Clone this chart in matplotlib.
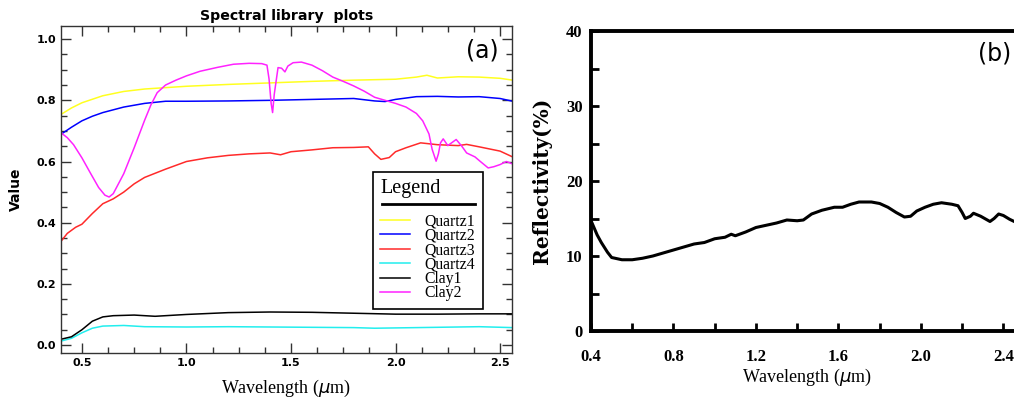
import matplotlib
matplotlib.use("Agg")
import matplotlib.pyplot as plt
from matplotlib.ticker import MultipleLocator
from matplotlib.lines import Line2D

# ---------------- data: panel (a) ----------------
q1_wl = [0.40, 0.45, 0.50, 0.60, 0.70, 0.80, 1.00, 1.20, 1.40, 1.60, 1.80, 2.00, 2.10, 2.15, 2.20, 2.30, 2.40, 2.50, 2.56]
q1_val = [0.754, 0.775, 0.792, 0.815, 0.829, 0.837, 0.846, 0.852, 0.857, 0.862, 0.866, 0.869, 0.876, 0.882, 0.873, 0.877, 0.876, 0.872, 0.866]

q2_wl = [0.40, 0.45, 0.50, 0.55, 0.60, 0.70, 0.80, 0.90, 1.00, 1.20, 1.40, 1.60, 1.80, 1.90, 1.95, 2.00, 2.10, 2.20, 2.30, 2.40, 2.50, 2.56]
q2_val = [0.689, 0.712, 0.733, 0.748, 0.760, 0.778, 0.790, 0.797, 0.797, 0.798, 0.800, 0.803, 0.806, 0.798, 0.796, 0.803, 0.812, 0.813, 0.811, 0.812, 0.806, 0.797]

q3_wl = [0.40, 0.43, 0.47, 0.50, 0.55, 0.60, 0.65, 0.70, 0.75, 0.80, 0.90, 1.00, 1.10, 1.20, 1.30, 1.40, 1.45, 1.50, 1.60, 1.70, 1.80, 1.87, 1.90, 1.93, 1.97, 2.00, 2.05, 2.12, 2.20, 2.30, 2.34, 2.40, 2.50, 2.56]
q3_val = [0.339, 0.365, 0.385, 0.395, 0.430, 0.462, 0.478, 0.500, 0.527, 0.548, 0.575, 0.600, 0.612, 0.620, 0.625, 0.628, 0.622, 0.632, 0.638, 0.645, 0.646, 0.648, 0.625, 0.607, 0.613, 0.632, 0.645, 0.661, 0.655, 0.652, 0.656, 0.648, 0.634, 0.615]

q4_wl = [0.40, 0.45, 0.50, 0.55, 0.60, 0.70, 0.80, 1.00, 1.20, 1.40, 1.60, 1.80, 1.90, 2.00, 2.20, 2.40, 2.56]
q4_val = [0.013, 0.022, 0.040, 0.055, 0.062, 0.064, 0.060, 0.059, 0.060, 0.059, 0.058, 0.057, 0.055, 0.056, 0.058, 0.060, 0.057]

c1_wl = [0.40, 0.45, 0.50, 0.55, 0.60, 0.65, 0.75, 0.85, 1.00, 1.20, 1.40, 1.60, 1.80, 2.00, 2.20, 2.40, 2.56]
c1_val = [0.019, 0.027, 0.050, 0.078, 0.092, 0.096, 0.098, 0.094, 0.100, 0.106, 0.108, 0.107, 0.104, 0.101, 0.101, 0.102, 0.102]

c2_wl = [0.40, 0.43, 0.46, 0.50, 0.54, 0.58, 0.61, 0.63, 0.65, 0.70, 0.75, 0.80, 0.83, 0.86, 0.90, 0.95, 1.00, 1.065, 1.15, 1.225, 1.30, 1.36, 1.385, 1.395, 1.405, 1.412, 1.42, 1.438, 1.455, 1.471, 1.485, 1.51, 1.55, 1.60, 1.65, 1.70, 1.75, 1.80, 1.85, 1.90, 1.95, 2.00, 2.05, 2.10, 2.13, 2.16, 2.175, 2.194, 2.205, 2.215, 2.228, 2.25, 2.29, 2.317, 2.34, 2.38, 2.404, 2.443, 2.47, 2.50, 2.53, 2.56]
c2_val = [0.694, 0.678, 0.655, 0.612, 0.563, 0.515, 0.490, 0.484, 0.495, 0.560, 0.645, 0.735, 0.785, 0.825, 0.850, 0.866, 0.880, 0.895, 0.908, 0.918, 0.921, 0.920, 0.915, 0.870, 0.790, 0.760, 0.820, 0.907, 0.905, 0.893, 0.912, 0.923, 0.925, 0.915, 0.897, 0.876, 0.862, 0.847, 0.830, 0.810, 0.800, 0.790, 0.778, 0.757, 0.733, 0.690, 0.640, 0.601, 0.625, 0.661, 0.674, 0.652, 0.672, 0.650, 0.628, 0.615, 0.601, 0.579, 0.583, 0.590, 0.600, 0.592]

series_names = ["Quartz1", "Quartz2", "Quartz3", "Quartz4", "Clay1", "Clay2"]
series_colors = ["#ffff20", "#0000ff", "#ff2a2a", "#22eeee", "#000000", "#ff22ff"]

# ---------------- data: panel (b) ----------------
b_wl = [0.405, 0.43, 0.45, 0.48, 0.50, 0.55, 0.60, 0.65, 0.70, 0.75, 0.80, 0.85, 0.90, 0.95, 1.00, 1.05, 1.08, 1.10, 1.15, 1.20, 1.25, 1.30, 1.35, 1.40, 1.43, 1.47, 1.52, 1.58, 1.62, 1.66, 1.70, 1.76, 1.80, 1.84, 1.88, 1.92, 1.95, 1.98, 2.02, 2.06, 2.10, 2.15, 2.18, 2.20, 2.215, 2.24, 2.255, 2.29, 2.335, 2.355, 2.377, 2.40, 2.43, 2.46, 2.50]
b_refl = [14.4, 12.8, 11.8, 10.5, 9.8, 9.5, 9.5, 9.7, 10.0, 10.4, 10.8, 11.2, 11.6, 11.8, 12.3, 12.5, 12.9, 12.7, 13.2, 13.8, 14.1, 14.4, 14.8, 14.7, 14.8, 15.6, 16.1, 16.5, 16.5, 16.9, 17.2, 17.2, 17.0, 16.5, 15.8, 15.2, 15.3, 16.0, 16.5, 16.9, 17.1, 16.9, 16.7, 15.8, 15.0, 15.3, 15.7, 15.3, 14.6, 15.0, 15.6, 15.4, 14.9, 14.5, 14.4]

W, H = 1014, 400
fig = plt.figure(figsize=(W / 100, H / 100), dpi=100)

def fx(px):
    return px / W

def fy(py):
    return 1 - py / H

# ---------------- panel (a) ----------------
axa = fig.add_axes([fx(61), fy(353), fx(512) - fx(61), fy(26) - fy(353)])
data_a = [(q1_wl, q1_val), (q2_wl, q2_val), (q3_wl, q3_val), (q4_wl, q4_val), (c1_wl, c1_val), (c2_wl, c2_val)]
handles = []
for (wl, val), name, col in zip(data_a, series_names, series_colors):
    ln, = axa.plot(wl, val, color=col, lw=1.1, label=name)
    handles.append(ln)
axa.set_xlim(0.4, 2.557)
axa.set_ylim(-0.026, 1.043)
axa.xaxis.set_major_locator(MultipleLocator(0.5))
axa.xaxis.set_minor_locator(MultipleLocator(0.125))
axa.yaxis.set_major_locator(MultipleLocator(0.2))
axa.yaxis.set_minor_locator(MultipleLocator(0.05))
axa.tick_params(which="both", direction="in", top=True, right=True, color="#333333", width=1.0)
axa.tick_params(which="major", length=7)
axa.tick_params(which="minor", length=4.5)
axa.tick_params(labelsize=8)
for lab in axa.get_xticklabels() + axa.get_yticklabels():
    lab.set_fontweight("bold")
    lab.set_family("DejaVu Sans")
for sp in axa.spines.values():
    sp.set_color("#333333")
    sp.set_linewidth(1.0)
axa.set_title("Spectral library  plots", fontsize=10.2, fontweight="bold", family="DejaVu Sans", pad=4)
axa.set_ylabel("Value", fontsize=10, fontweight="bold", family="DejaVu Sans", labelpad=10)
axa.set_xlabel("Wavelength ($\\mu$m)", fontsize=13, family="Liberation Serif", labelpad=7)
axa.text(0.97, 0.925, "(a)", transform=axa.transAxes, ha="right", va="center", fontsize=17, family="DejaVu Sans")

leg = axa.legend(handles=handles, title="Legend", loc="upper left",
                 bbox_to_anchor=((373 - 61) / 451, (353 - 172) / 327),
                 frameon=True, fancybox=False, edgecolor="black", framealpha=1,
                 prop={"family": "Liberation Serif", "size": 11.3},
                 title_fontproperties={"family": "Liberation Serif", "size": 14.5},
                 handlelength=1.9, handletextpad=0.95, labelspacing=-0.1,
                 borderpad=0.45, borderaxespad=0)
leg.get_frame().set_linewidth(1.2)
leg._legend_box.align = "left"
leg._legend_box.sep = 11
# underline of the legend title
axa.add_line(Line2D([(382 - 61) / 451, (475 - 61) / 451], [(353 - 204) / 327] * 2,
                    transform=axa.transAxes, color="black", lw=2.0, zorder=10))

# ---------------- panel (b) ----------------
axb = fig.add_axes([fx(591), fy(331), fx(1024) - fx(591), fy(31) - fy(331)])
axb.plot(b_wl, b_refl, color="black", lw=2.2)
axb.set_xlim(0.4, 2.5)
axb.set_ylim(0, 40)
axb.xaxis.set_major_locator(MultipleLocator(0.4))
axb.xaxis.set_minor_locator(MultipleLocator(0.2))
axb.yaxis.set_major_locator(MultipleLocator(10))
axb.yaxis.set_minor_locator(MultipleLocator(5))
axb.tick_params(which="both", direction="in", length=6, width=2.0, top=False, right=False)
axb.tick_params(axis="y", labelsize=12, pad=6)
axb.tick_params(axis="x", labelsize=12, pad=13)
for lab in axb.get_xticklabels() + axb.get_yticklabels():
    lab.set_fontweight("bold")
    lab.set_family("Liberation Serif")
for sp in axb.spines.values():
    sp.set_linewidth(2.8)
axb.spines["right"].set_visible(False)
axb.set_ylabel("Reflectivity(%)", fontsize=14.5, fontweight="bold", family="DejaVu Serif", labelpad=10)
axb.set_xlabel("Wavelength ($\\mu$m)", fontsize=13, family="Liberation Serif", labelpad=1)
fig.text(fx(1011), fy(53), "(b)", ha="right", va="center", fontsize=17, family="DejaVu Sans")

fig.savefig("out.png", dpi=100)
